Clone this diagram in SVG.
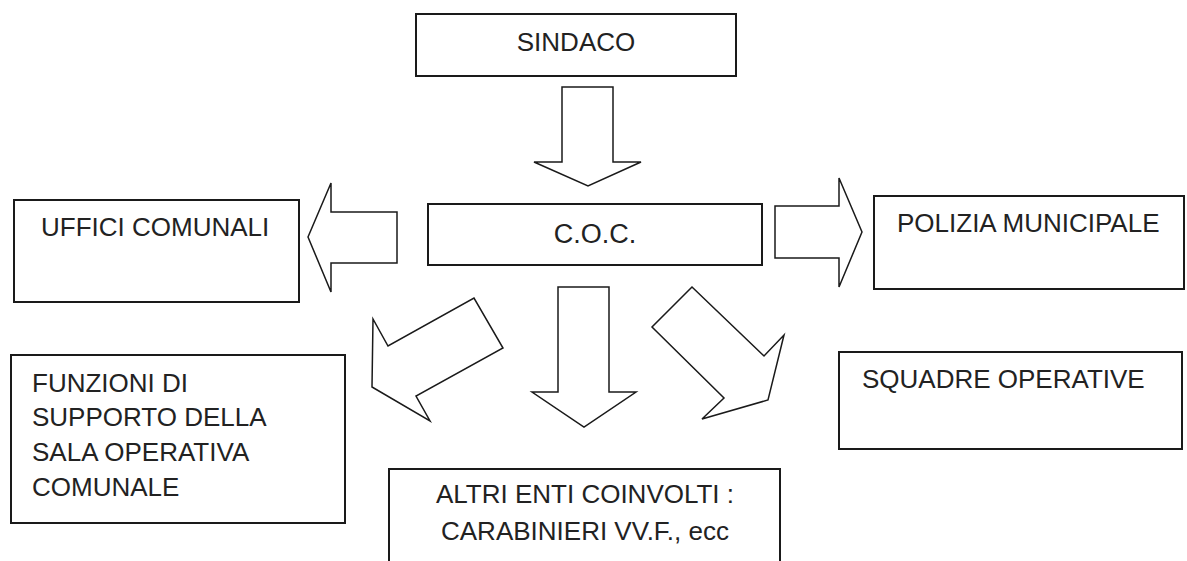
<svg xmlns="http://www.w3.org/2000/svg" width="1187" height="561" viewBox="0 0 1187 561">
<style>
.box{fill:#fff;stroke:#1a1a1a;stroke-width:2}
.arr{fill:#fff;stroke:#1a1a1a;stroke-width:1.5;stroke-linejoin:miter}
.t{font-family:"Liberation Sans",Arial,sans-serif;font-size:26px;fill:#222}
.c{text-anchor:middle}
</style>
<rect width="1187" height="561" fill="#fff"/>
<g id="connectors">
<polygon class="arr" points="562,87 613,87 613,162 641,162 588,186 534,162 562,162"/>
<polygon class="arr" points="397,212 331,212 331,183 308,237 331,292 331,263 397,263"/>
<polygon class="arr" points="775,206 839,206 839,178 862,232 839,287 839,258 775,258"/>
<polygon class="arr" points="372,387 373,319 388,346 474,298 503,348 416,396 430,421"/>
<polygon class="arr" points="558,287 609,287 609,392 636,392 584,427 532,392 558,392"/>
<polygon class="arr" points="692,287 652,327 724,398 702,419 768,400 784,335 764,356"/>
</g>
<g id="sindaco">
<rect class="box" x="416" y="14" width="320" height="62"/>
<text class="t c" x="576" y="51">SINDACO</text>
</g>
<g id="coc">
<rect class="box" x="428" y="204" width="334" height="61"/>
<text class="t c" x="595" y="243" style="font-size:27px">C.O.C.</text>
</g>
<g id="uffici">
<rect class="box" x="14" y="200" width="285" height="102"/>
<text class="t" x="41" y="236">UFFICI COMUNALI</text>
</g>
<g id="polizia">
<rect class="box" x="874" y="196" width="310" height="93"/>
<text class="t" x="897" y="232">POLIZIA MUNICIPALE</text>
</g>
<g id="funzioni">
<rect class="box" x="11" y="355" width="334" height="168"/>
<text class="t" x="32" y="392">FUNZIONI DI</text>
<text class="t" x="32" y="426">SUPPORTO DELLA</text>
<text class="t" x="32" y="461">SALA OPERATIVA</text>
<text class="t" x="32" y="496">COMUNALE</text>
</g>
<g id="squadre">
<rect class="box" x="839" y="352" width="343" height="97"/>
<text class="t" x="862" y="388">SQUADRE OPERATIVE</text>
</g>
<g id="altri">
<rect class="box" x="389" y="469" width="391" height="100"/>
<text class="t c" x="585" y="503">ALTRI ENTI COINVOLTI :</text>
<text class="t c" x="585" y="540">CARABINIERI VV.F., ecc</text>
</g>
</svg>
